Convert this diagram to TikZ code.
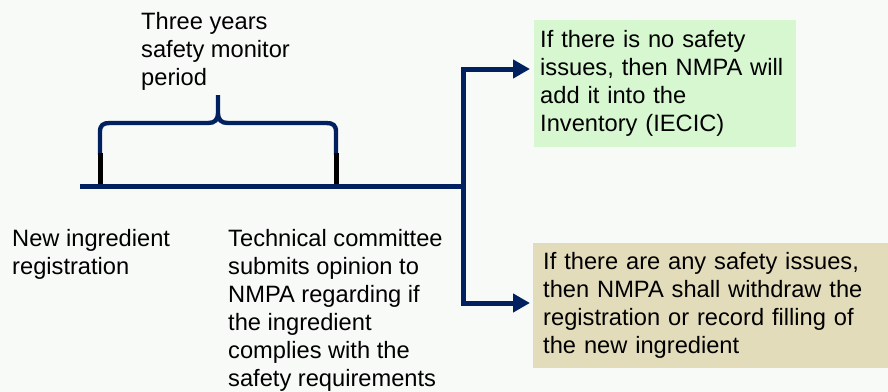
\documentclass[tikz,border=0pt]{standalone}
\usepackage{fontspec}
\setmainfont{Liberation Sans}
\usetikzlibrary{arrows.meta}
\definecolor{navy}{RGB}{0,32,96}
\definecolor{okgreen}{RGB}{214,247,208}
\definecolor{warntan}{RGB}{227,220,187}
\definecolor{pagebg}{RGB}{248,250,248}

\begin{document}
\begin{tikzpicture}[x=0.03cm, y=-0.03cm,
  mainline/.style={draw=navy, line width=0.15cm},
  flow/.style={mainline, -{Triangle[length=0.51cm,width=0.54cm]}},
  lbl/.style={font=\fontsize{20.2}{23.9}\selectfont, align=left,
    inner sep=0pt, anchor=north west},
  box/.style={lbl, inner xsep=0.33cm}]
  \fill[pagebg] (0,0) rectangle (888,392);
  \useasboundingbox (0,0) rectangle (888,392);

  \node[lbl] (period) at (141,12) {Three years\\safety monitor\\period};
  \node[lbl] (newreg) at (12,229) {New ingredient\\registration};
  \node[lbl] (opinion) at (228,229) {Technical committee\\submits opinion to\\NMPA regarding if\\the ingredient\\complies with the\\safety requirements};
  \node[box, fill=okgreen, text width=7.5cm, inner xsep=0.18cm,
    minimum height=3.81cm] (noissue) at (534,20)
    {If there is no safety\\issues, then NMPA will\\add it into the\\Inventory (IECIC)};
  \node[box, fill=warntan, text width=10.05cm, inner xsep=0.3cm,
    minimum height=3.75cm] (withdraw) at (533,243)
    {If there are any safety issues,\\then NMPA shall withdraw the\\registration or record filling of\\the new ingredient};

  \coordinate (start) at (80,186);
  \coordinate (split) at (463,186);
  \coordinate (regA) at (100,186);
  \coordinate (regB) at (336,186);
  \coordinate (upend) at (530,69);
  \coordinate (downend) at (530,303);

  % brace over the monitor period
  \draw[navy, line width=0.13cm] (100,155) -- (100,132)
    .. controls (100,125) and (103,123) .. (110,123) -- (208,123)
    .. controls (215,123) and (218,120) .. (218,112) -- (218,95)
    -- (218,112) .. controls (218,120) and (221,123) .. (228,123)
    -- (326,123) .. controls (333,123) and (336,125) .. (336,132)
    -- (336,155);
  \draw[black, line width=0.15cm] (100,153) -- (regA);
  \draw[black, line width=0.15cm] (336,153) -- (regB);

  \draw[mainline] (start) -- (split);
  \draw[flow] (split) |- (upend);
  \draw[flow] (split) |- (downend);
\end{tikzpicture}
\end{document}
